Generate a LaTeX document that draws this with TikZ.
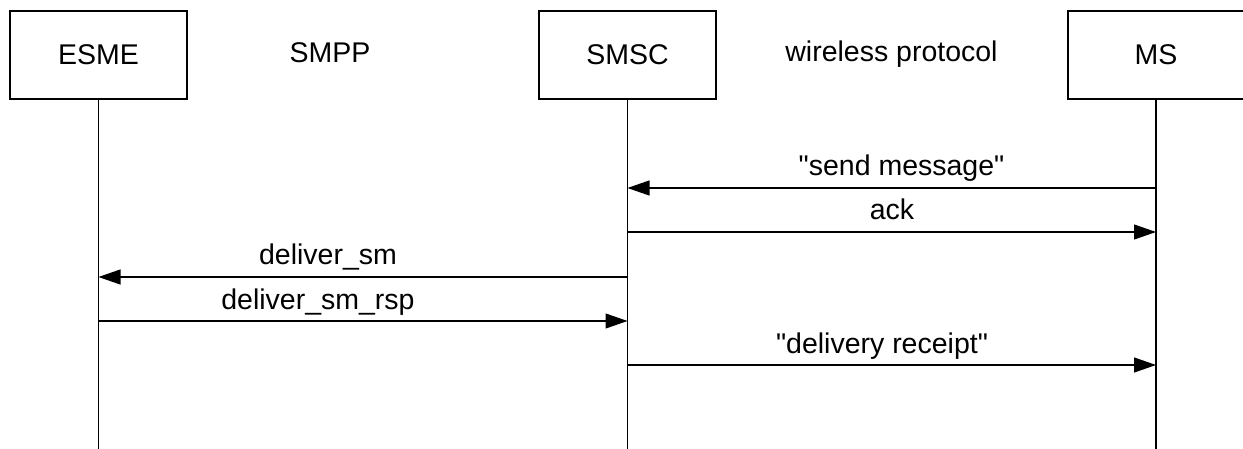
\documentclass[tikz,border=0pt]{standalone}
\usepackage{fontspec}
\setmainfont{Liberation Sans}[Ligatures=TeXOff]
\usetikzlibrary{arrows.meta}
\begin{document}
\begin{tikzpicture}[x=1pt,y=-1pt,
  every node/.style={font=\fontsize{28.5}{32}\selectfont},
  actor/.style={draw,line width=1.2pt,minimum width=177pt,minimum height=88pt,inner sep=0pt},
  life/.style={line width=1.3pt},
  msg/.style={line width=1.2pt,-{Triangle[length=22pt,width=15pt]}},
  lbl/.style={anchor=base,inner sep=0pt}]
\useasboundingbox (0,0) rectangle (1243,449);
\node[actor] (esme) at (98.5,55) {ESME};
\node[actor] (smsc) at (627.5,55) {SMSC};
\node[actor,minimum width=182pt] (ms) at (1159,55) {};
\node (mslabel) at (1156,55) {MS};
\coordinate (esmeEnd) at (98.5,449);
\coordinate (smscEnd) at (627.5,449);
\coordinate (msEnd) at (1156,449);
\draw[life] (esme.south) -- (esmeEnd);
\draw[life] (smsc.south) -- (smscEnd);
\draw[life] (msEnd |- ms.south) -- (msEnd);
\node[lbl] (smpp) at (330,63) {SMPP};
\node[lbl] (wp) at (891.5,62) {wireless protocol};
% message points
\coordinate (m1s) at (1156,188); \coordinate (m1e) at (627.5,188);
\coordinate (m2s) at (627.5,232); \coordinate (m2e) at (1156,232);
\coordinate (m3s) at (627.5,277); \coordinate (m3e) at (98.5,277);
\coordinate (m4s) at (98.5,321); \coordinate (m4e) at (627.5,321);
\coordinate (m5s) at (627.5,365); \coordinate (m5e) at (1156,365);
\draw[msg] (m1s) -- (m1e);
\draw[msg] (m2s) -- (m2e);
\draw[msg] (m3s) -- (m3e);
\draw[msg] (m4s) -- (m4e);
\draw[msg] (m5s) -- (m5e);
\node[lbl] (l1) at (901.5,176) {"send message"};
\node[lbl] (l2) at (892,220) {ack};
\node[lbl] (l3) at (328,265) {deliver\_sm};
\node[lbl] (l4) at (318,309) {deliver\_sm\_rsp};
\node[lbl] (l5) at (882,353) {"delivery receipt"};
\end{tikzpicture}
\end{document}
